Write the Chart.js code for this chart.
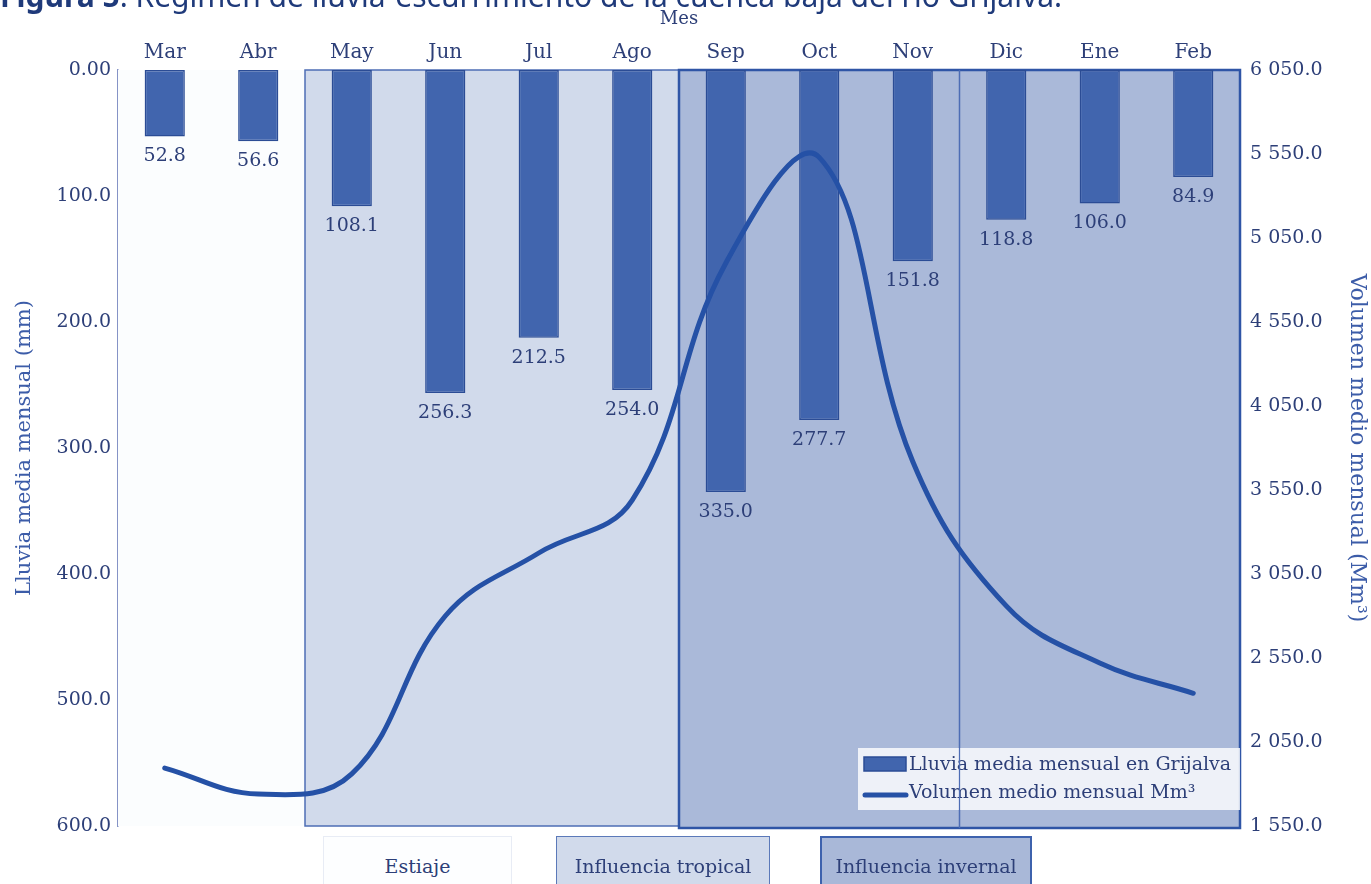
<!DOCTYPE html>
<html>
<head>
<meta charset="UTF-8">
<title>Régimen de lluvia-escurrimiento</title>
<script src="https://cdn.jsdelivr.net/npm/chart.js"></script>
<style>
  body { margin: 0; background: #fff; }
  #wrap { position: relative; width: 1371px; height: 884px; overflow: hidden; }
  #fig { position: absolute; left: 0; top: -19px; font-family: 'Noto Sans', sans-serif; font-size: 30px;
         line-height: 1; color: #1f3a7a; white-space: nowrap; }
  .season { position: absolute; top: 836px; height: 60px; box-sizing: border-box; display: flex;
            align-items: center; justify-content: center; font-family: 'DejaVu Serif', serif;
            font-size: 19px; color: #2d3f78; }
</style>
</head>
<body>
<div id="wrap">
  <canvas id="grijalvaChart"></canvas>
  <div id="fig"><b>Figura 5</b>. Régimen de lluvia-escurrimiento de la cuenca baja del río Grijalva.</div>
  <div class="season" style="left:323px;width:189px;background:#fdfeff;border:1px solid #e8ecf5;">Estiaje</div>
  <div class="season" style="left:556px;width:214px;background:#d1daeb;border:1.5px solid #5b79b9;">Influencia tropical</div>
  <div class="season" style="left:820px;width:212px;background:#a9b8d8;border:2px solid #3e62ad;">Influencia invernal</div>
</div>

<script>
  const months = ['Mar', 'Abr', 'May', 'Jun', 'Jul', 'Ago', 'Sep', 'Oct', 'Nov', 'Dic', 'Ene', 'Feb'];
  const lluvia = [52.8, 56.6, 108.1, 256.3, 212.5, 254.0, 335.0, 277.7, 151.8, 118.8, 106.0, 84.9];
  const volumen = [1895, 1740, 1860, 2800, 3175, 3490, 4900, 5530, 3720, 2860, 2520, 2340];
  const lluviaTicks = ['0.00', '100.0', '200.0', '300.0', '400.0', '500.0', '600.0'];
  const volumenTicks = ['1 550.0', '2 050.0', '2 550.0', '3 050.0', '3 550.0', '4 050.0', '4 550.0', '5 050.0', '5 550.0', '6 050.0'];
  const estiaje = ['Mar', 'Abr'];
  const tropical = ['May', 'Nov'];
  const invernal = ['Sep', 'Feb'];

  const serif = "'DejaVu Serif', serif";
  const navy = '#2d3f78';
  const barFill = '#4165ae';
  const barBorder = '#2b4c95';
  const lineColor = '#2551a6';

  const cv = document.getElementById('grijalvaChart');
  cv.width = 1371; cv.height = 884;

  // season frames behind the bars and the line
  const seasonPlugin = {
    id: 'seasons',
    beforeDatasetsDraw(chart) {
      const ctx = chart.ctx, a = chart.chartArea, x = chart.scales.x;
      const half = (x.getPixelForValue(1) - x.getPixelForValue(0)) / 2;
      const leftOf = m => x.getPixelForValue(months.indexOf(m)) - half;
      const rightOf = m => x.getPixelForValue(months.indexOf(m)) + half;
      const h = a.bottom - a.top;
      ctx.save();
      ctx.fillStyle = '#fbfdfe';
      ctx.fillRect(leftOf(estiaje[0]), a.top, rightOf(estiaje[1]) - leftOf(estiaje[0]), h);

      let l = leftOf(tropical[0]), r = rightOf(invernal[1]);
      ctx.fillStyle = '#d1daeb';
      ctx.fillRect(l, a.top, r - l, h);
      ctx.strokeStyle = '#4d6db5';
      ctx.lineWidth = 1.5;
      ctx.strokeRect(l, a.top, r - l, h);

      l = leftOf(invernal[0]);
      ctx.fillStyle = '#aab9d9';
      ctx.fillRect(l, a.top, r - l, h + 2);
      ctx.strokeStyle = '#2f55a6';
      ctx.lineWidth = 2.5;
      ctx.strokeRect(l, a.top, r - l, h + 2);

      const d = rightOf(tropical[1]);
      ctx.strokeStyle = '#4d6db5';
      ctx.lineWidth = 1.5;
      ctx.beginPath(); ctx.moveTo(d, a.top); ctx.lineTo(d, a.bottom + 2); ctx.stroke();
      ctx.restore();
    },
    afterDatasetsDraw(chart) {
      // values under each bar
      const ctx = chart.ctx;
      const meta = chart.getDatasetMeta(0);
      ctx.save();
      ctx.font = '19px ' + serif;
      ctx.fillStyle = navy;
      ctx.textAlign = 'center';
      ctx.textBaseline = 'middle';
      meta.data.forEach((bar, i) => {
        ctx.fillText(lluvia[i].toFixed(1), bar.x, bar.y + 20);
      });
      ctx.restore();
    },
    afterDraw(chart) {
      // legend box in the lower right corner
      const ctx = chart.ctx, a = chart.chartArea;
      const bx = a.right - 382, by = a.bottom - 78, bw = 382, bh = 62;
      ctx.save();
      ctx.fillStyle = 'rgba(255,255,255,0.8)';
      ctx.fillRect(bx, by, bw, bh);
      ctx.fillStyle = barFill;
      ctx.strokeStyle = barBorder;
      ctx.lineWidth = 1.5;
      ctx.fillRect(bx + 6, by + 9, 42, 14);
      ctx.strokeRect(bx + 6, by + 9, 42, 14);
      ctx.strokeStyle = lineColor;
      ctx.lineWidth = 5;
      ctx.lineCap = 'round';
      ctx.beginPath(); ctx.moveTo(bx + 7, by + 47); ctx.lineTo(bx + 48, by + 47); ctx.stroke();
      ctx.font = '19px ' + serif;
      ctx.fillStyle = navy;
      ctx.textBaseline = 'middle';
      ctx.fillText(chart.data.datasets[0].label, bx + 51, by + 17);
      ctx.fillText(chart.data.datasets[1].label, bx + 51, by + 45);
      // the Nov/Dic divider shows through the legend
      const x = chart.scales.x;
      const d = (x.getPixelForValue(months.indexOf(tropical[1])) + x.getPixelForValue(months.indexOf(tropical[1]) + 1)) / 2;
      ctx.strokeStyle = '#4d6db5';
      ctx.lineWidth = 1.2;
      ctx.beginPath(); ctx.moveTo(d, by); ctx.lineTo(d, by + bh); ctx.stroke();
      ctx.restore();
    }
  };

  new Chart(cv, {
    data: {
      labels: months,
      datasets: [{
        type: 'bar',
        label: 'Lluvia media mensual en Grijalva',
        data: lluvia,
        yAxisID: 'y',
        backgroundColor: barFill,
        borderColor: barBorder,
        borderWidth: 1.5,
        borderSkipped: false,
        barPercentage: 0.43,
        categoryPercentage: 1,
        order: 1
      }, {
        type: 'line',
        label: 'Volumen medio mensual Mm³',
        data: volumen,
        yAxisID: 'y2',
        borderColor: lineColor,
        borderWidth: 5,
        pointRadius: 0,
        tension: 0.4,
        borderCapStyle: 'round',
        fill: false,
        order: 0
      }]
    },
    options: {
      responsive: false,
      animation: false,
      layout: { padding: { left: 0, right: 0, top: 0, bottom: 58 } },
      plugins: { legend: { display: false }, tooltip: { enabled: false } },
      scales: {
        x: {
          position: 'top',
          offset: true,
          grid: { display: false, drawTicks: false },
          border: { color: '#c3cbe3', width: 1 },
          ticks: { font: { family: serif, size: 20 }, color: navy, padding: 5 },
          title: { display: true, text: 'Mes', font: { family: serif, size: 18 }, color: navy, padding: { top: 9, bottom: 0 } },
          afterFit: s => { s.height = 70; }
        },
        y: {
          position: 'left',
          reverse: true,
          min: 0, max: 600,
          ticks: { stepSize: 100, font: { family: serif, size: 19 }, color: navy, padding: 7,
                   callback: v => lluviaTicks[Math.round(v / 100)] },
          grid: { display: false, drawTicks: false },
          border: { color: '#8593c6', width: 1.5 },
          title: { display: true, text: 'Lluvia media mensual (mm)', font: { family: serif, size: 21 }, color: '#3c5ca8', padding: { top: 12, bottom: 0 } },
          afterFit: s => { s.width = 118; }
        },
        y2: {
          position: 'right',
          min: 1550, max: 6050,
          ticks: { stepSize: 500, font: { family: serif, size: 19 }, color: navy, padding: 10,
                   callback: v => volumenTicks[Math.round((v - 1550) / 500)] },
          grid: { display: false, drawTicks: false },
          border: { display: false },
          title: { display: true, text: 'Volumen medio mensual (Mm³)', font: { family: serif, size: 22 }, color: '#3c5ca8', padding: { top: 1, bottom: 0 } },
          afterFit: s => { s.width = 131; }
        }
      }
    },
    plugins: [seasonPlugin]
  });
</script>
</body>
</html>
